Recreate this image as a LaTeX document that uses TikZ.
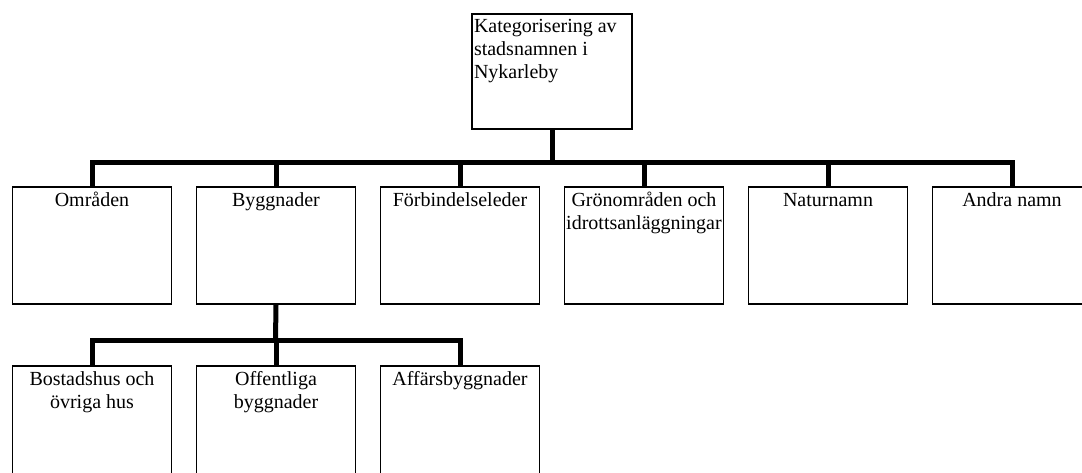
\documentclass[tikz,border=0pt]{standalone}
\usepackage{fontspec}
\setmainfont{Liberation Serif}
\newcommand{\boxtext}[1]{\parbox[t][82pt][t]{117pt}{\centering\strut #1}}

\begin{document}
\begin{tikzpicture}[x=0.75pt,y=-0.75pt,
	every node/.style={font=\fontsize{15pt}{17.25pt}\selectfont},
	box/.style={draw,line width=1.2pt,inner xsep=1pt,inner ysep=3pt,anchor=north},
	link/.style={line width=3.75pt},
	growth parent anchor=north,
	edge from parent/.style={draw=none},
	level 1/.style={level distance=129.75pt,sibling distance=138pt},
	level 2/.style={level distance=134.25pt,sibling distance=138pt}]
\clip (0,0) rectangle (1082,472);
\node[box,inner xsep=1.5pt,inner ysep=2pt] (root) at (552,13) {\parbox[t][82.25pt][t]{117pt}{\raggedright\strut Kategorisering av\\stadsnamnen i\\Nykarleby}}
	child {node[box] (omr) {\boxtext{Områden}}}
	child {node[box] (bygg) {\boxtext{Byggnader}}
		child {node[box] (bost) {\boxtext{Bostadshus och\\övriga hus}}}
		child {node[box] (off) {\boxtext{Offentliga\\byggnader}}}
		child {node[box] (aff) {\boxtext{Affärsbyggnader}}}
		}
	child {node[box] (forb) {\boxtext{Förbindelseleder}}}
	child {node[box] (gron) {\boxtext{Grönområden och\\idrottsanläggningar}}}
	child {node[box] (natur) {\boxtext{Naturnamn}}}
	child {node[box] (andra) {\boxtext{Andra namn}}};
\coordinate (fork) at (552,162);
\coordinate (subfork) at (275.5,340);
\draw[link] (root.south) -- (fork);
\draw[link] (fork) -| (omr.north);
\draw[link] (fork) -| (bygg.north);
\draw[link] (fork) -| (forb.north);
\draw[link] (fork) -| (gron.north);
\draw[link] (fork) -| (natur.north);
\draw[link] (fork) -| (andra.north);
\draw[link] (bygg.south) -- (subfork);
\draw[link] (subfork) -| (bost.north);
\draw[link] (subfork) -| (off.north);
\draw[link] (subfork) -| (aff.north);
\end{tikzpicture}
\end{document}
